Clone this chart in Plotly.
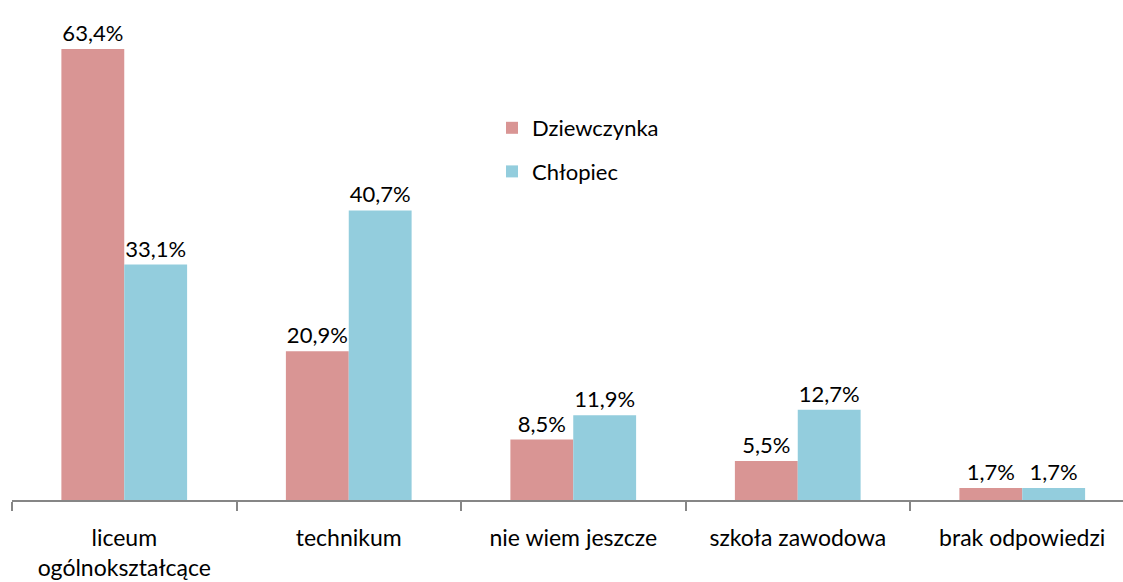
import plotly.graph_objects as go

categories = ["liceum<br>ogólnokształcące", "technikum", "nie wiem jeszcze", "szkoła zawodowa", "brak odpowiedzi"]
dziewczynka = [63.4, 20.9, 8.5, 5.5, 1.7]
chlopiec = [33.1, 40.7, 11.9, 12.7, 1.7]
series_names = ["Dziewczynka", "Chłopiec"]
colors = ["#D99594", "#93CDDD"]

def fmt(v):
    return f"{v:.1f}".replace(".", ",") + "%"

FONT = "Lato"
fig = go.Figure()
for i, (name, vals) in enumerate(zip(series_names, [dziewczynka, chlopiec])):
    fig.add_trace(go.Bar(
        x=categories, y=vals, name=name, marker_color=colors[i],
        marker_line_width=0,
        text=[fmt(v) for v in vals], textposition="outside",
        textfont=dict(family=FONT, size=22, color="#000000"),
        cliponaxis=False, legendgroup=f"g{i}",
    ))

fig.update_layout(
    width=1123, height=582,
    margin=dict(l=12, r=0, t=0, b=82),
    paper_bgcolor="white", plot_bgcolor="white",
    barmode="group", bargap=0.44, bargroupgap=0,
    font=dict(family=FONT, size=22, color="#000000"),
    legend=dict(x=(492 - 12) / 1111, y=1 - 107 / 500, xanchor="left", yanchor="top",
                font=dict(family=FONT, size=22), tracegroupgap=12,
                bgcolor="rgba(0,0,0,0)"),
)
fig.update_xaxes(
    range=[-0.5, (1123 - 12) / 224.5 - 0.5],
    showline=True, linecolor="#868686", linewidth=1.5,
    ticks="outside", tickson="boundaries", ticklen=9, tickcolor="#868686", tickwidth=1.5,
    tickfont=dict(family=FONT, size=23, color="#000000"),
    ticklabelstandoff=17, automargin=False,
    showgrid=False,
)
fig.update_yaxes(range=[0, 500 / (451 / 63.4)], visible=False, showgrid=False, automargin=False)

fig.write_html("out.html", config={"displayModeBar": False},
               post_script="document.body.style.margin='0';document.body.style.padding='0';")
